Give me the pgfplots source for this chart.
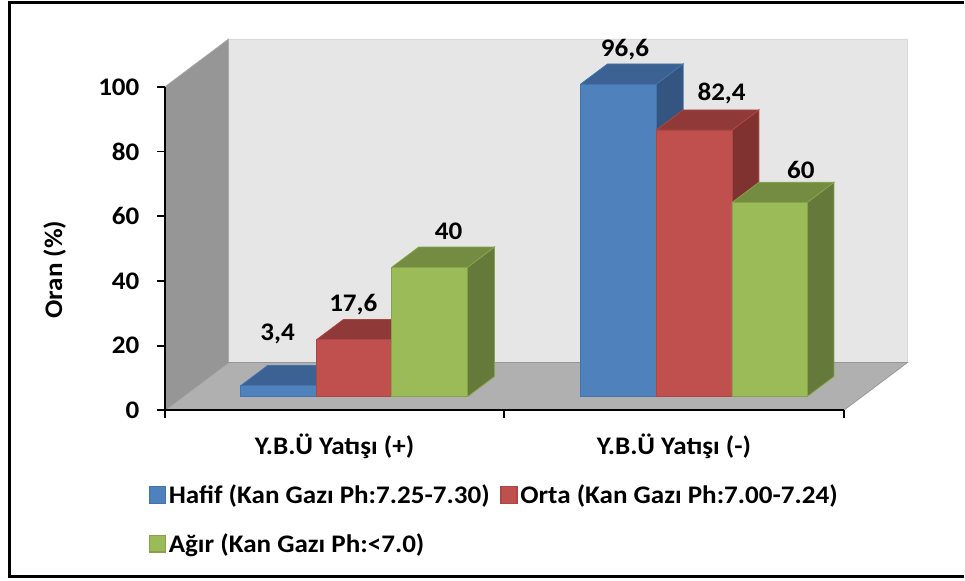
\documentclass[border=0pt]{standalone}
\usepackage{fontspec}
\setmainfont[FakeStretch=1.07]{Carlito}
\usepackage{pgfplots}
\pgfplotsset{compat=1.18}

% Walls and floor of the oblique chart box
\definecolor{backwall}{HTML}{E6E6E6}
\definecolor{sidewall}{HTML}{969696}
\definecolor{floorc}{HTML}{B0B0B0}
% Bar faces: front, top, side, edge
\definecolor{blueF}{HTML}{4F81BD}\definecolor{blueT}{HTML}{3B6292}\definecolor{blueS}{HTML}{335580}\definecolor{blueE}{HTML}{4373AD}
\definecolor{redF}{HTML}{C0504D}\definecolor{redT}{HTML}{8F3A38}\definecolor{redS}{HTML}{7F3230}\definecolor{redE}{HTML}{B04643}
\definecolor{greenF}{HTML}{9BBB59}\definecolor{greenT}{HTML}{748C42}\definecolor{greenS}{HTML}{65793B}\definecolor{greenE}{HTML}{86A34A}

\newcommand{\chartfont}{\bfseries\fontsize{19}{21}\selectfont}

% One bar: x from #1 to #2, height #3, colour prefix #4, label #5 shifted by (#6,#7)
\newcommand{\solidbar}[7]{%
  \addplot3[fill=#4S,draw=#4E,line width=0.6pt] coordinates {(#2,0.285,0) (#2,0.707,0) (#2,0.707,#3) (#2,0.285,#3) (#2,0.285,0)};
  \addplot3[fill=#4T,draw=#4E,line width=0.6pt] coordinates {(#1,0.285,#3) (#2,0.285,#3) (#2,0.707,#3) (#1,0.707,#3) (#1,0.285,#3)};
  \addplot3[fill=#4F,draw=#4E,line width=0.6pt] coordinates {(#1,0.285,0) (#2,0.285,0) (#2,0.285,#3) (#1,0.285,#3) (#1,0.285,0)};
  \node[font=\chartfont,xshift=#6*0.75pt,yshift=#7*0.75pt] at (axis cs:#1,0.285,#3) {#5};
}

\begin{document}
\begin{tikzpicture}
  % Page area
  \fill[white] (0,0) rectangle (723.75pt,435.75pt);

  % Oblique box and bars
  \begin{axis}[
    at={(123.75pt,127.5pt)}, anchor=origin,
    x={(255pt,0pt)}, y={(48pt,36pt)}, z={(0pt,2.43pt)},
    xmin=0, xmax=2, ymin=0, ymax=1, zmin=0, zmax=100,
    hide axis, clip=false, no markers,
  ]
    \addplot3[fill=backwall,draw=backwall!95!black,line width=0.5pt] coordinates {(0,1,0) (2,1,0) (2,1,100) (0,1,100) (0,1,0)};
    \addplot3[fill=sidewall,draw=sidewall!80!white,line width=0.5pt] coordinates {(0,0,0) (0,1,0) (0,1,100) (0,0,100) (0,0,0)};
    \addplot3[fill=floorc,draw=floorc!85!black,line width=0.5pt] coordinates {(0,0,0) (2,0,0) (2,1,0) (0,1,0) (0,0,0)};

    \solidbar{0.170}{0.393}{3.4}{blue}{3,4}{37}{52}
    \solidbar{0.393}{0.615}{17.6}{red}{17,6}{37}{35.5}
    \solidbar{0.615}{0.838}{40}{green}{40}{57}{36}
    \solidbar{1.171}{1.394}{96.6}{blue}{96,6}{44.5}{35}
    \solidbar{1.394}{1.617}{82.4}{red}{82,4}{65.5}{36.5}
    \solidbar{1.617}{1.838}{60}{green}{60}{69}{32.5}
  \end{axis}

  % Flat axes carrying the ticks, their labels and the legend
  \begin{axis}[
    at={(123.75pt,127.5pt)}, anchor=south west,
    scale only axis, width=510pt, height=243pt,
    xmin=0, xmax=2, ymin=0, ymax=100,
    axis x line*=bottom, axis y line*=left,
    axis line style={line width=1.4pt,-},
    tick style={black,line width=1.4pt},
    tick align=outside,
    major tick length=6pt, minor tick length=6pt,
    ytick={0,20,...,100},
    xtick={0.5,1.5}, xticklabels={Y.B.Ü Yatışı (+),Y.B.Ü Yatışı (-)},
    minor xtick={0,1,2},
    major x tick style={draw=none},
    font=\chartfont,
    tick label style={font=\chartfont},
    /pgf/number format/assume math mode=true,
    ylabel={Oran (\%)},
    ylabel style={font=\chartfont},
    every axis y label/.style={at={(axis description cs:-0.162,0.435)},rotate=90,anchor=center},
    yticklabel style={xshift=-9.5pt},
    xticklabel style={yshift=-8.5pt},
    legend columns=2,
    legend cell align=left,
    legend style={
      at={(axis description cs:-0.0235,-0.222)}, anchor=north west,
      draw=none, fill=none, inner sep=0pt, outer sep=0pt,
      font=\chartfont,
      /tikz/every even column/.append style={column sep=6pt},
      row sep=17pt,
    },
    legend image code/.code={\draw[#1] (0pt,-6pt) rectangle (12pt,6.5pt);},
  ]
    \addlegendimage{fill=blueF,draw=blueE,line width=1pt}
    \addlegendentry{Hafif (Kan Gazı Ph:7.25-7.30)}
    \addlegendimage{fill=redF,draw=redE,line width=1pt}
    \addlegendentry{Orta (Kan Gazı Ph:7.00-7.24)}
    \addlegendimage{fill=greenF,draw=greenE,line width=1pt}
    \addlegendentry{Ağır (Kan Gazı Ph:<7.0)}
  \end{axis}

  % Chart frame, open on the right where it leaves the page
  \draw[black,line width=2.2pt] (723.75pt,433.6pt) -- (7pt,433.6pt) -- (7pt,2.4pt) -- (723.75pt,2.4pt);
\end{tikzpicture}
\end{document}
